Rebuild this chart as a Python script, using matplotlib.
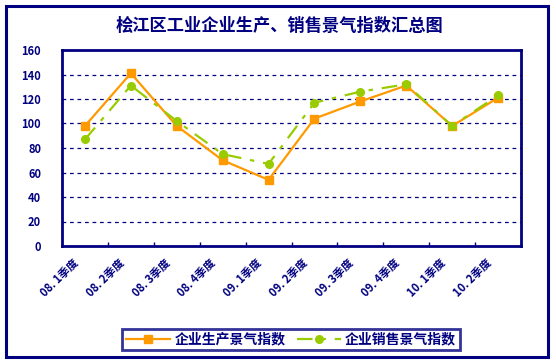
import matplotlib
matplotlib.use("Agg")
import matplotlib.pyplot as plt
from matplotlib.patches import Rectangle
import matplotlib.transforms as mtransforms

plt.rcParams['font.family'] = ['Noto Sans CJK SC', 'DejaVu Sans']

categories = ["08. 1季度", "08. 2季度", "08. 3季度", "08. 4季度", "09. 1季度",
              "09. 2季度", "09. 3季度", "09. 4季度", "10. 1季度", "10. 2季度"]
production = [98, 141, 98, 70, 54, 104, 118, 131, 98, 121]
sales = [87, 131, 102, 75, 67, 117, 126, 132, 98, 123]
yticks = [0, 20, 40, 60, 80, 100, 120, 140, 160]

title = "桧江区工业企业生产、销售景气指数汇总图"
name_prod = "企业生产景气指数"
name_sales = "企业销售景气指数"

navy = "#000080"
orange = "#FF9900"
green = "#99CC00"

W, H = 556, 363
fig = plt.figure(figsize=(W / 100, H / 100), dpi=100)

# outer frame
fig.patches.append(Rectangle((6 / W, 6 / H), 542 / W, 351 / H, transform=fig.transFigure,
                             fill=False, edgecolor=navy, linewidth=2.2))

ax = fig.add_axes([62 / W, (H - 246) / H, 459 / W, 196 / H])
x = list(range(len(categories)))
ax.plot(x, production, color=orange, linewidth=1.6, marker='s', markersize=6,
        markerfacecolor=orange, markeredgecolor=orange, label=name_prod, zorder=3)
ax.plot(x, sales, color=green, linewidth=1.6, marker='o', markersize=5.5,
        markerfacecolor=green, markeredgecolor=green, dashes=(7, 4, 2, 4),
        label=name_sales, zorder=4)

ax.set_xlim(-0.5, len(categories) - 0.5)
ax.set_ylim(0, 160)
ax.set_yticks(yticks)
ax.set_yticklabels([str(v) for v in yticks], fontsize=8, fontweight='bold', color=navy)
for v in yticks[1:-1]:
    ax.axhline(v, color=navy, linewidth=0.9, linestyle=(0, (3, 3)), zorder=1)
for s in ax.spines.values():
    s.set_color(navy)
    s.set_linewidth(2)
ax.tick_params(axis='y', length=0, pad=15)

ax.set_xticks([i + 0.5 for i in range(len(categories) - 1)], minor=False)
ax.set_xticklabels([])
ax.tick_params(axis='x', direction='in', length=3, color=navy, width=1)
offset = mtransforms.ScaledTranslation(-4 / 100, -10 / 100, fig.dpi_scale_trans)
for i, lab in enumerate(categories):
    ax.text(i, 0, lab, transform=ax.get_xaxis_transform() + offset, rotation=45,
            ha='right', va='top', fontsize=8, fontweight='bold', color=navy)

fig.text(280 / W, 1 - 26 / H, title, ha='center', va='center', fontsize=12.4,
         fontweight='bold', color=navy)

leg = fig.legend(loc='center', bbox_to_anchor=(291 / W, 1 - 339.5 / H), ncol=2,
                 frameon=True, fancybox=False, fontsize=10, handlelength=3.2,
                 handletextpad=0.3, columnspacing=0.8, borderpad=0.25)
leg.get_frame().set_edgecolor(navy)
leg.get_frame().set_linewidth(2)
for t in leg.get_texts():
    t.set_color(navy)
    t.set_fontweight('bold')

fig.savefig("out.png", dpi=100)
